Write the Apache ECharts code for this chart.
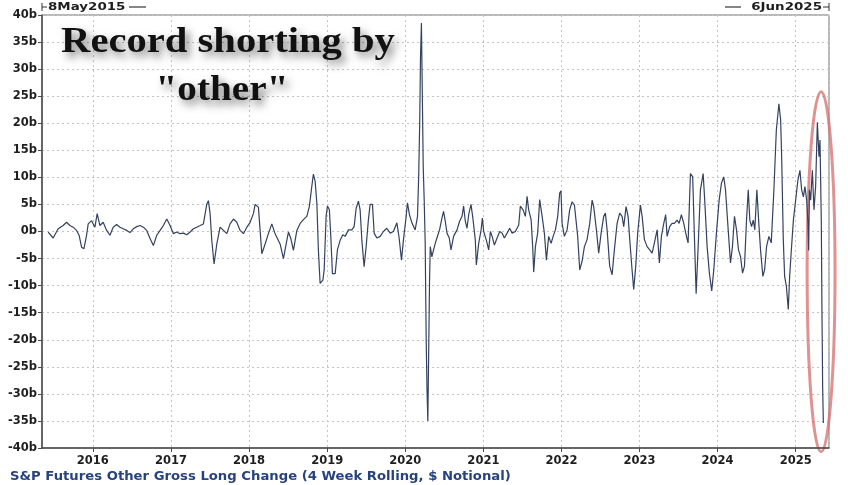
<!DOCTYPE html>
<html><head><meta charset="utf-8">
<script src="https://cdn.jsdelivr.net/npm/echarts@6/dist/echarts.min.js"></script>
<style>html,body{margin:0;padding:0;background:#fff}#c{width:848px;height:485px}</style>
</head><body><div id="c"></div>
<script>
// ---- data (decimal year, value in $bn) ----
const yearPos = [
2015.427,2015.491,2015.555,2015.619,2015.663,2015.705,2015.747,2015.791,2015.824,2015.855,2015.885,2015.919,2015.940,2015.962,2015.983,
2016.026,2016.055,2016.090,2016.132,2016.176,2016.218,2016.260,2016.304,2016.346,2016.388,2016.432,2016.474,2016.517,2016.560,2016.603,2016.645,2016.688,2016.731,2016.773,2016.817,2016.859,2016.901,2016.945,2016.987,
2017.029,2017.073,2017.115,2017.158,2017.201,2017.244,2017.286,2017.329,2017.372,2017.414,2017.458,2017.478,2017.500,2017.522,2017.551,2017.586,2017.628,2017.671,2017.714,2017.756,2017.799,2017.842,2017.885,2017.927,2017.971,
2018.013,2018.055,2018.077,2018.119,2018.163,2018.205,2018.247,2018.291,2018.333,2018.397,2018.440,2018.483,2018.504,2018.535,2018.568,2018.612,2018.654,2018.696,2018.740,2018.773,2018.804,2018.824,2018.846,2018.868,2018.888,2018.910,2018.945,2018.962,2018.987,
2019.004,2019.029,2019.047,2019.068,2019.103,2019.132,2019.167,2019.201,2019.231,2019.273,2019.317,2019.346,2019.372,2019.401,2019.423,2019.445,2019.474,2019.500,2019.529,2019.551,2019.581,2019.603,2019.637,2019.679,2019.722,2019.765,2019.808,2019.850,2019.894,2019.923,2019.953,2019.978,
2020.013,2020.029,2020.055,2020.086,2020.128,2020.158,2020.173,2020.186,2020.196,2020.208,2020.218,2020.231,2020.244,2020.256,2020.269,2020.279,2020.290,2020.301,2020.312,2020.321,2020.342,2020.363,2020.385,2020.406,2020.440,2020.471,2020.491,2020.513,2020.535,2020.564,2020.586,2020.619,2020.663,2020.696,2020.727,2020.747,2020.769,2020.791,2020.812,2020.842,2020.868,2020.897,2020.910,2020.940,2020.971,2020.987,
2021.004,2021.038,2021.068,2021.090,2021.112,2021.141,2021.176,2021.209,2021.240,2021.269,2021.304,2021.337,2021.368,2021.410,2021.453,2021.474,2021.509,2021.538,2021.560,2021.581,2021.612,2021.632,2021.645,2021.667,2021.696,2021.722,2021.753,2021.782,2021.808,2021.837,2021.868,2021.894,2021.923,2021.953,2021.978,2021.995,
2022.009,2022.038,2022.073,2022.106,2022.137,2022.167,2022.192,2022.209,2022.235,2022.265,2022.295,2022.329,2022.363,2022.394,2022.414,2022.449,2022.478,2022.509,2022.542,2022.564,2022.586,2022.619,2022.650,2022.679,2022.714,2022.747,2022.778,2022.799,2022.829,2022.855,2022.876,2022.906,2022.927,2022.953,2022.978,
2023.013,2023.035,2023.064,2023.099,2023.132,2023.163,2023.192,2023.227,2023.256,2023.282,2023.312,2023.337,2023.355,2023.388,2023.419,2023.449,2023.483,2023.509,2023.538,2023.568,2023.603,2023.624,2023.654,2023.683,2023.705,2023.727,2023.753,2023.782,2023.817,2023.837,2023.868,2023.897,2023.927,2023.953,2023.987,
2024.022,2024.051,2024.081,2024.103,2024.132,2024.167,2024.192,2024.218,2024.244,2024.269,2024.295,2024.321,2024.346,2024.372,2024.394,2024.414,2024.436,2024.458,2024.478,2024.504,2024.529,2024.551,2024.581,2024.603,2024.628,2024.658,2024.688,2024.722,2024.753,2024.786,2024.808,2024.821,2024.842,2024.859,2024.881,2024.906,2024.923,2024.945,2024.971,
2025.000,2025.029,2025.055,2025.077,2025.099,2025.119,2025.141,2025.158,2025.167,2025.176,2025.192,2025.214,2025.235,2025.256,2025.278,2025.299,2025.312,2025.329,2025.337,2025.346,2025.355
];
const values = [
-0.1,-1.2,0.5,1.1,1.7,1.1,0.8,0.2,-0.7,-2.9,-3.2,-0.7,1.4,1.1,2.0,
0.8,3.3,1.1,1.7,0.2,-0.7,0.8,1.3,0.8,0.5,0.2,-0.2,0.5,0.9,1.1,0.8,0.2,-1.3,-2.6,-0.7,0.2,1.1,2.3,1.1,
-0.4,-0.1,-0.4,-0.3,-0.6,-0.1,0.5,0.8,1.1,1.4,5.1,5.7,3.3,-1.7,-6.0,-2.3,0.8,0.2,-0.4,1.4,2.3,1.7,0.2,-0.4,0.8,
1.7,3.3,5.0,4.5,-4.1,-2.3,-0.4,1.4,-0.4,-2.3,-5.0,-1.7,-0.1,-1.3,-3.5,0.2,1.5,2.2,2.8,4.7,8.4,10.6,9.3,5.3,-3.4,-9.6,-9.0,-7.1,2.8,
4.7,4.0,-0.9,-7.8,-7.8,-3.4,-1.6,-0.6,-0.9,0.3,0.3,0.9,4.3,5.6,4.0,-1.6,-6.5,-2.8,2.2,5.0,5.0,-0.3,-1.2,-0.9,0,0.6,-0.3,0,1.6,-1.2,-5.3,-1.6,
2.8,5.3,3.1,1.6,0.3,2.8,10.2,20,32,38.5,27,12,5.5,-2,-20,-29,-35,-22,-9,-2.8,-4.7,-3.4,-2.2,-1.2,0.3,2.5,3.7,1.9,-0.3,-1.2,-3.4,-0.9,0.3,1.9,2.8,4.7,1.9,0.6,3.1,5.0,2.2,-1.6,-6.2,-2.2,0.3,2.5,
0,-1.6,-3.4,0,-0.9,-2.5,-1.2,0,-0.3,-1.2,-0.3,0.6,-0.3,0,1.2,4.7,4.0,2.8,6.5,4.0,2.2,-2.8,-7.5,-2.8,-0.3,5.9,2.8,-0.3,-5.3,-0.9,-2.2,-0.9,0.3,2.8,7.1,7.5,
1.5,-0.9,0.3,4.0,5.5,4.9,4.6,-0.9,-7.1,-5.5,-2.8,-1.5,1.5,5.8,4.6,0.3,-4.0,-0.3,2.8,3.4,0.3,-6.4,-8.0,-3.4,1.5,3.4,2.8,0.9,4.6,2.8,-1.5,-7.1,-10.7,-6.4,-0.3,
4.9,2.8,-1.5,-2.8,-3.4,-4.0,-2.1,0.3,-5.8,-0.9,1.5,3.1,-0.9,0.9,1.5,1.5,2.1,1.5,3.1,1.5,-0.9,-2.1,10.7,10.1,-0.9,-11.5,-2.8,7.7,10.7,5.8,-2.8,-7.7,-11.0,-7.1,-0.3,
5.8,8.9,10.1,7.7,1.5,-5.8,-2.8,2.8,0.3,-3.4,-4.6,-7.7,-6.4,2.1,7.7,2.1,0.9,2.1,0.3,7.7,1.5,-3.4,-8.3,-7.1,-2.8,-0.9,-2.1,7.7,18.7,23.6,20.6,13.8,-1.5,-8.3,-10.1,-14.4,-8.3,-3.4,2.1,
5.8,9.5,11.3,7.7,6.4,8.3,5.8,1.5,-3.5,7.7,5.8,11.3,4.0,8.3,20.2,13.8,16.9,1.5,-14.5,-28.7,-35.4
];
const axisStart = [2015, 4, 8];   // 8 May 2015
const axisEnd = [2025, 5, 6];     // 6 Jun 2025
const startLabel = '8May2015';
const endLabel = '6Jun2025';
const titleLines = ['Record shorting by', '"other"'];
const caption = 'S&P Futures Other Gross Long Change (4 Week Rolling, $ Notional)';
const yMin = -40, yMax = 40, yStep = 5;
// annotation ellipse extent (decimal years, values)
const ellipseYears = [2025.147, 2025.505];
const ellipseValues = [25.8, -40.7];

function yearToTime(y) {
  const Y = Math.floor(y);
  const a = new Date(Y, 0, 1).getTime();
  const b = new Date(Y + 1, 0, 1).getTime();
  return a + (y - Y) * (b - a);
}
const seriesData = yearPos.map((y, i) => [yearToTime(y), values[i]]);
const YEAR = 365 * 24 * 3600 * 1000;
const labelFont = { fontFamily: 'DejaVu Sans', fontWeight: 'bold', fontSize: 11.5, color: '#1e1e1e' };
const grid = '#c4c4c4';

const chart = echarts.init(document.getElementById('c'), null, { renderer: 'canvas' });
chart.setOption({
  animation: false,
  backgroundColor: '#ffffff',
  grid: { left: 42, right: 19, top: 15, bottom: 37, show: true, borderColor: '#707070', borderWidth: 1 },
  xAxis: {
    type: 'time',
    min: new Date(...axisStart).getTime(),
    max: new Date(...axisEnd).getTime(),
    minInterval: YEAR, maxInterval: YEAR * 1.01,
    axisLine: { show: true, onZero: false, lineStyle: { color: '#4a4a4a', width: 1.5 } },
    axisTick: { show: true, length: 4, lineStyle: { color: '#4a4a4a' } },
    axisLabel: Object.assign({ margin: 7, showMinLabel: false, showMaxLabel: false,
      formatter: v => String(new Date(v).getFullYear()) }, labelFont),
    splitLine: { show: true, lineStyle: { color: grid, type: [2, 3], width: 1 } }
  },
  yAxis: {
    type: 'value', min: yMin, max: yMax, interval: yStep,
    axisLine: { show: true, onZero: false, lineStyle: { color: '#4a4a4a', width: 1.5 } },
    axisTick: { show: true, length: 4, lineStyle: { color: '#4a4a4a' } },
    axisLabel: Object.assign({ margin: 5, formatter: '{value}b' }, labelFont),
    splitLine: { show: true, lineStyle: { color: grid, type: [2, 3], width: 1 } }
  },
  series: [{
    type: 'line', data: seriesData, symbol: 'none', showSymbol: false,
    lineStyle: { color: '#34425f', width: 1.2 }
  }]
});

const p0 = chart.convertToPixel({ gridIndex: 0 }, [yearToTime(ellipseYears[0]), ellipseValues[0]]);
const p1 = chart.convertToPixel({ gridIndex: 0 }, [yearToTime(ellipseYears[1]), ellipseValues[1]]);
const left = chart.convertToPixel({ gridIndex: 0 }, [new Date(...axisStart).getTime(), yMax]);
const right = chart.convertToPixel({ gridIndex: 0 }, [new Date(...axisEnd).getTime(), yMax]);

const shadowTitle = {
  fill: '#111', textShadowColor: 'rgba(0,0,0,0.5)', textShadowBlur: 8,
  textShadowOffsetX: 4, textShadowOffsetY: 5,
  shadowColor: 'rgba(0,0,0,0.5)', shadowBlur: 8, shadowOffsetX: 4, shadowOffsetY: 5,
  font: 'bold 35px "Liberation Serif", "DejaVu Serif", serif',
  textAlign: 'center', textVerticalAlign: 'middle'
};
const topY = left[1] - 8;
const dateFont = { font: 'bold 11px "DejaVu Sans"', fill: '#1e1e1e', textVerticalAlign: 'middle' };
chart.setOption({
  graphic: [
    { type: 'text', x: 228, y: 43, scaleX: 1.16, style: Object.assign({ text: titleLines[0] }, shadowTitle) },
    { type: 'text', x: 222, y: 91, scaleX: 1.12, style: Object.assign({ text: titleLines[1] }, shadowTitle) },
    { type: 'ellipse', shape: { cx: (p0[0] + p1[0]) / 2, cy: (p0[1] + p1[1]) / 2, rx: Math.abs(p1[0] - p0[0]) / 2, ry: Math.abs(p1[1] - p0[1]) / 2 },
      style: { fill: 'none', stroke: 'rgba(214,110,110,0.75)', lineWidth: 3 } },
    // top-left date marker
    { type: 'line', shape: { x1: left[0], y1: topY - 4, x2: left[0], y2: topY + 4 }, style: { stroke: '#333', lineWidth: 1 } },
    { type: 'line', shape: { x1: left[0], y1: topY, x2: left[0] + 5, y2: topY }, style: { stroke: '#333', lineWidth: 1 } },
    { type: 'text', x: left[0] + 6, y: topY, scaleX: 1.22, style: Object.assign({ text: startLabel, textAlign: 'left' }, dateFont) },
    { type: 'line', shape: { x1: left[0] + 87, y1: topY, x2: left[0] + 104, y2: topY }, style: { stroke: '#333', lineWidth: 1.2 } },
    // top-right date marker
    { type: 'line', shape: { x1: right[0], y1: topY - 4, x2: right[0], y2: topY + 4 }, style: { stroke: '#333', lineWidth: 1 } },
    { type: 'line', shape: { x1: right[0] - 6, y1: topY, x2: right[0], y2: topY }, style: { stroke: '#333', lineWidth: 1 } },
    { type: 'text', x: right[0] - 7, y: topY, scaleX: 1.22, style: Object.assign({ text: endLabel, textAlign: 'right' }, dateFont) },
    { type: 'line', shape: { x1: right[0] - 104, y1: topY, x2: right[0] - 88, y2: topY }, style: { stroke: '#333', lineWidth: 1.2 } },
    // caption
    { type: 'text', x: 10, y: 477, scaleX: 1.1, style: { text: caption, font: 'bold 12px "DejaVu Sans"', fill: '#27427c', textAlign: 'left', textVerticalAlign: 'middle' } }
  ]
});
</script>
</body></html>
